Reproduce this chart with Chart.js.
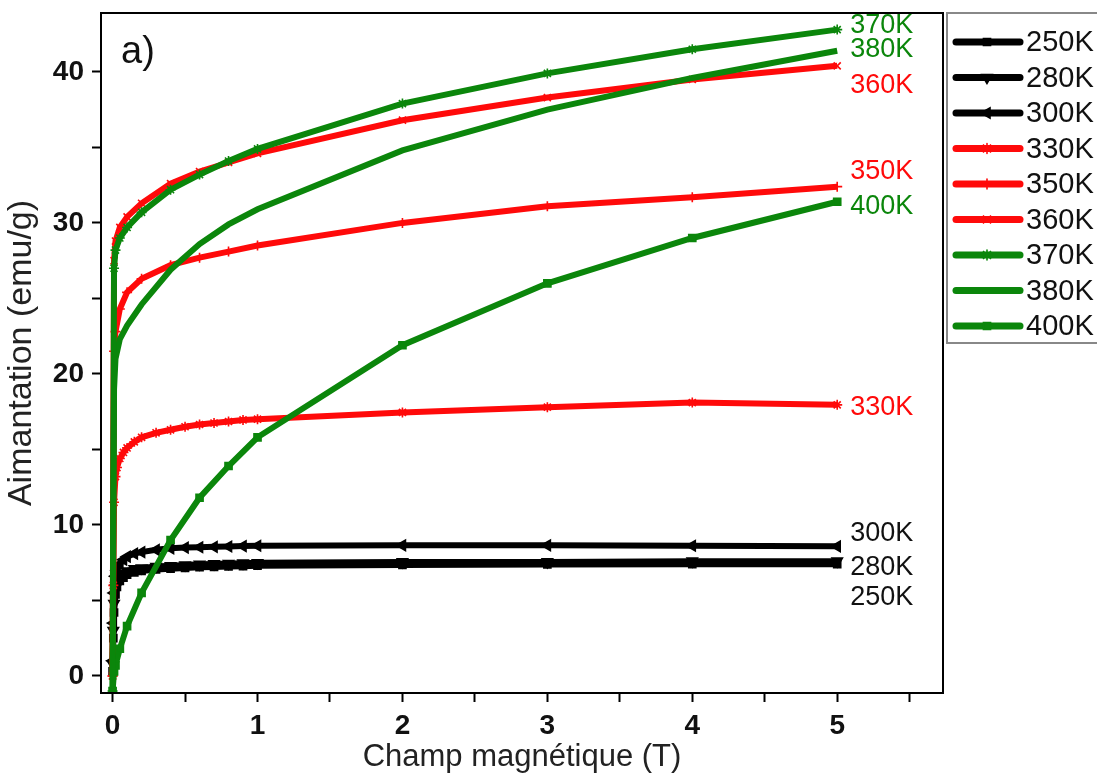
<!DOCTYPE html>
<html>
<head>
<meta charset="utf-8">
<title>Aimantation vs champ</title>
<script src="https://cdn.jsdelivr.net/npm/chart.js@4.4.1/dist/chart.umd.min.js"></script>
<style>
  html, body { margin: 0; padding: 0; background: #fff; }
</style>
</head>
<body>
<canvas id="mhChart" width="1097" height="779"></canvas>
<script>
// temperatures (legend order)
const temps = ["250K", "280K", "300K", "330K", "350K", "360K", "370K", "380K", "400K"];

// applied field (T) : fine grid for the black curves and 330K, coarse grid for the others
const fieldFine = [0, 0.005, 0.01, 0.02, 0.03, 0.05, 0.075, 0.1, 0.15, 0.2, 0.3, 0.4, 0.5, 0.6, 0.7, 0.8, 0.9, 1, 2, 3, 4, 5];
const fieldCoarse = [0, 0.01, 0.02, 0.05, 0.1, 0.2, 0.4, 0.6, 0.8, 1, 2, 3, 4, 5];

// magnetisation (emu/g)
const m250 = [0.3, 2.5, 4.2, 5.4, 5.9, 6.3, 6.5, 6.7, 6.85, 6.95, 7.05, 7.1, 7.15, 7.2, 7.22, 7.25, 7.27, 7.3, 7.35, 7.38, 7.4, 7.4];
const m280 = [0.8, 3.0, 4.8, 5.8, 6.2, 6.6, 6.8, 6.95, 7.1, 7.15, 7.25, 7.3, 7.35, 7.4, 7.42, 7.45, 7.47, 7.5, 7.55, 7.55, 7.6, 7.6];
const m300 = [1.0, 3.5, 5.5, 6.6, 7.0, 7.4, 7.7, 7.9, 8.1, 8.2, 8.35, 8.45, 8.5, 8.52, 8.55, 8.57, 8.6, 8.62, 8.65, 8.65, 8.62, 8.58];
const m330 = [0, 6.0, 11.5, 13.2, 13.8, 14.4, 14.8, 15.1, 15.5, 15.8, 16.1, 16.3, 16.5, 16.65, 16.75, 16.85, 16.95, 17.0, 17.45, 17.8, 18.1, 17.95];
const m350 = [0, 21.5, 22.8, 24.3, 25.4, 26.3, 27.2, 27.7, 28.1, 28.5, 30.0, 31.1, 31.7, 32.4];
const m360 = [0, 27.5, 28.8, 29.7, 30.4, 31.3, 32.6, 33.4, 34.0, 34.6, 36.8, 38.3, 39.5, 40.4];
const m370 = [-1.0, 27.0, 28.2, 29.0, 29.7, 30.7, 32.2, 33.2, 34.1, 34.9, 37.9, 39.9, 41.5, 42.8];
const m380 = [-1.0, 19.0, 21.0, 22.3, 23.2, 24.6, 26.9, 28.6, 29.9, 30.9, 34.8, 37.5, 39.6, 41.4];
const m400 = [-1.0, 0.3, 0.7, 1.8, 3.3, 5.5, 9.0, 11.8, 13.9, 15.8, 21.9, 26.0, 29.0, 31.4];

// where the temperature tags sit next to the curve ends (data units)
const tagField = 5.09;
const tagM = [5.2, 7.2, 9.4, 17.8, 33.4, 39.1, 43.1, 41.5, 31.1];

const xTicks = [0, 1, 2, 3, 4, 5];
const yTicks = [0, 10, 20, 30, 40];

const BLACK = "#000000";
const RED = "#ff0a0a";
const GREEN = "#0b860b";

const series = [
    { x: fieldFine, y: m250, color: BLACK, style: "rect", rot: 0, r: 5, order: 2 },
    { x: fieldFine, y: m280, color: BLACK, style: "triangle", rot: 180, r: 6, order: 2 },
    { x: fieldFine, y: m300, color: BLACK, style: "triangle", rot: 270, r: 6, order: 2 },
    { x: fieldFine, y: m330, color: RED, style: "star", rot: 0, r: 5, order: 1 },
    { x: fieldCoarse, y: m350, color: RED, style: "cross", rot: 0, r: 5, order: 1 },
    { x: fieldCoarse, y: m360, color: RED, style: "crossRot", rot: 0, r: 5, order: 1 },
    { x: fieldCoarse, y: m370, color: GREEN, style: "star", rot: 0, r: 5, order: 0 },
    { x: fieldCoarse, y: m380, color: GREEN, style: "circle", rot: 0, r: 0, order: 0 },
    { x: fieldCoarse, y: m400, color: GREEN, style: "rect", rot: 0, r: 5, order: 0 }
];

const datasets = series.map(function (s, i) {
    return {
        label: temps[i],
        data: s.x.map(function (f, j) { return { x: f, y: s.y[j] }; }),
        borderColor: s.color,
        backgroundColor: s.color,
        borderWidth: 6,
        pointStyle: s.style,
        pointRotation: s.rot,
        pointRadius: s.r,
        pointBorderWidth: 1.6,
        pointBorderColor: s.color,
        pointBackgroundColor: s.color,
        tension: 0,
        order: s.order
    };
});

const near = function (v, list) {
    return list.some(function (t) { return Math.abs(v - t) < 1e-6; });
};

// box around the plot
const frame = {
    id: "frame",
    afterDatasetsDraw: function (chart) {
        const a = chart.chartArea, ctx = chart.ctx;
        ctx.save();
        ctx.strokeStyle = "#000";
        ctx.lineWidth = 2;
        ctx.strokeRect(a.left, a.top, a.right - a.left, a.bottom - a.top);
        ctx.restore();
    }
};

// "a)" plus the temperature tags near the curve ends
const tags = {
    id: "tags",
    afterDraw: function (chart) {
        const ctx = chart.ctx, a = chart.chartArea;
        const xs = chart.scales.x, ys = chart.scales.y;
        ctx.save();
        ctx.fillStyle = "#111";
        ctx.font = "38px 'Liberation Sans', Arial, sans-serif";
        ctx.textBaseline = "middle";
        ctx.fillText("a)", a.left + 20, a.top + 40);
        ctx.font = "27px 'Liberation Sans', Arial, sans-serif";
        temps.forEach(function (t, i) {
            ctx.fillStyle = series[i].color === BLACK ? "#111" : series[i].color;
            ctx.fillText(t, xs.getPixelForValue(tagField), ys.getPixelForValue(tagM[i]));
        });
        ctx.restore();
    }
};

// legend box on the right, line + marker samples
const sideLegend = {
    id: "sideLegend",
    afterDraw: function (chart) {
        const ctx = chart.ctx, a = chart.chartArea;
        const x0 = a.right + 4, top = a.top, rowH = 35.5, firstRow = a.top + 29;
        const bottom = firstRow + rowH * (temps.length - 1) + 17;
        ctx.save();
        ctx.strokeStyle = "#888";
        ctx.lineWidth = 2;
        ctx.beginPath();
        ctx.moveTo(chart.width, top);
        ctx.lineTo(x0, top);
        ctx.lineTo(x0, bottom);
        ctx.lineTo(chart.width, bottom);
        ctx.stroke();
        ctx.font = "29px 'Liberation Sans', Arial, sans-serif";
        ctx.textBaseline = "middle";
        temps.forEach(function (t, i) {
            const s = series[i];
            const y = firstRow + i * rowH;
            ctx.strokeStyle = s.color;
            ctx.lineWidth = 7;
            ctx.lineCap = "round";
            ctx.beginPath();
            ctx.moveTo(x0 + 9, y);
            ctx.lineTo(x0 + 73, y);
            ctx.stroke();
            if (s.r > 0) {
                ctx.fillStyle = s.color;
                ctx.lineWidth = 1.6;
                Chart.helpers.drawPoint(ctx, { pointStyle: s.style, rotation: s.rot, radius: s.r, borderWidth: 1.6 }, x0 + 40, y);
            }
            ctx.fillStyle = "#111";
            ctx.fillText(t, x0 + 79, y + 1);
        });
        ctx.restore();
    }
};

new Chart(document.getElementById("mhChart"), {
    type: "line",
    data: { datasets: datasets },
    plugins: [frame, tags, sideLegend],
    options: {
        responsive: false,
        animation: false,
        devicePixelRatio: 1,
        layout: { padding: { top: 13, right: 154, left: 0, bottom: 0 } },
        plugins: { legend: { display: false }, tooltip: { enabled: false } },
        scales: {
            x: {
                type: "linear",
                min: -0.08,
                max: 5.73,
                afterFit: function (scale) {
                    scale.height = 86;
                    scale.paddingLeft = 0;
                    scale.paddingRight = 0;
                },
                border: { display: true, color: "#000", width: 2 },
                grid: { drawOnChartArea: false, drawTicks: true, tickLength: 9, tickColor: "#000", tickWidth: 2 },
                ticks: {
                    stepSize: 0.5,
                    includeBounds: false,
                    autoSkip: false,
                    maxRotation: 0,
                    padding: 7,
                    color: "#111",
                    font: { family: "'Liberation Sans', Arial, sans-serif", size: 28, weight: "bold" },
                    callback: function (v) { return near(v, xTicks) ? Math.round(v) : ""; }
                },
                title: {
                    display: true,
                    text: "Champ magnétique (T)",
                    color: "#222",
                    padding: { top: 0, bottom: 3 },
                    font: { family: "'Liberation Sans', Arial, sans-serif", size: 31 }
                }
            },
            y: {
                type: "linear",
                min: -1.13,
                max: 43.9,
                afterFit: function (scale) {
                    scale.width = 101;
                    scale.paddingTop = 0;
                    scale.paddingBottom = 0;
                },
                border: { display: true, color: "#000", width: 2 },
                grid: { drawOnChartArea: false, drawTicks: true, tickLength: 9, tickColor: "#000", tickWidth: 2 },
                ticks: {
                    stepSize: 5,
                    includeBounds: false,
                    autoSkip: false,
                    padding: 8,
                    color: "#111",
                    font: { family: "'Liberation Sans', Arial, sans-serif", size: 28, weight: "bold" },
                    callback: function (v) { return near(v, yTicks) ? Math.round(v) : ""; }
                },
                title: {
                    display: true,
                    text: "Aimantation (emu/g)",
                    color: "#222",
                    padding: { top: 1, bottom: 0 },
                    font: { family: "'Liberation Sans', Arial, sans-serif", size: 34 }
                }
            }
        }
    }
});
</script>
</body>
</html>
